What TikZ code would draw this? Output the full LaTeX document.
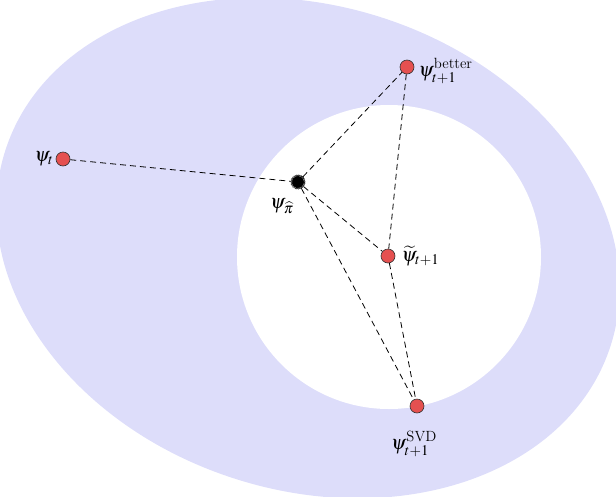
\documentclass[tikz,border=0pt]{standalone}
\usepackage{amsmath}
\usepackage{mathptmx}
\begin{document}
\begin{tikzpicture}[x=1pt,y=-1pt,
  pt/.style={circle,draw=black!80,fill=red!65!white!90!black,minimum size=14pt,inner sep=0pt,line width=0.6pt},
  lk/.style={dash pattern=on 6pt off 4pt,line width=0.8pt},
  lb/.style={font=\fontsize{20}{22}\selectfont,inner sep=2pt}]
\definecolor{lav}{RGB}{221,221,250}
\useasboundingbox (0,0) rectangle (616,496);
\fill[lav,rotate around={-18:(308,248)}] (308,248) ellipse [x radius=318,y radius=242];
\fill[white] (389,257) circle (152);
\node[pt] (t) at (63,159) {};
\node[circle,fill=black,draw=white,double=black,double distance=1pt,line width=0.5pt,densely dotted,minimum size=14pt,inner sep=0pt] (p) at (298,182) {};
\node[pt] (b) at (407,67) {};
\node[pt] (w) at (388,256) {};
\node[pt] (s) at (417,406) {};
\draw[lk] (t)--(p); \draw[lk] (p)--(b); \draw[lk] (b)--(w);
\draw[lk] (p)--(w); \draw[lk] (p)--(s); \draw[lk] (w)--(s);
\node[lb,left] at (t.west) {$\psi_t$};
\node[lb] at (282,206) {$\psi_{\widehat{\pi}}$};
\node[lb,right] at ([xshift=2,yshift=-4]b.east) {$\psi_{t+1}^{\text{better}}$};
\node[lb,right] at ([xshift=4]w.east) {$\widetilde{\psi}_{t+1}$};
\node[lb] at (414,444) {$\psi_{t+1}^{\text{SVD}}$};
\end{tikzpicture}
\end{document}
